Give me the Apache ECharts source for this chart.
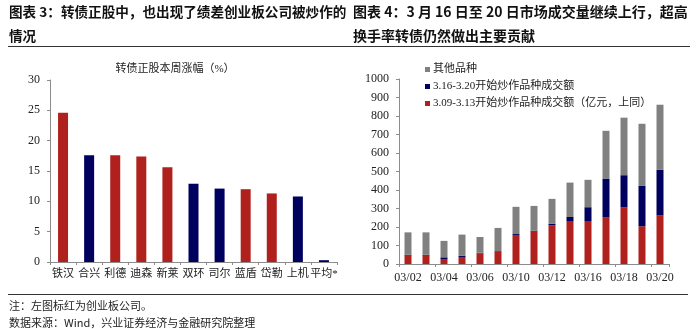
<!DOCTYPE html>
<html><head><meta charset="utf-8">
<script src="https://cdn.jsdelivr.net/npm/echarts@6/dist/echarts.min.js"></script>
<style>html,body{margin:0;padding:0;background:#fff}#c{width:700px;height:329px}</style>
</head><body><div id="c"></div>
<script>
// Left chart: 转债正股本周涨幅（%）
var stocks = ['铁汉','合兴','利德','迪森','新莱','双环','司尔','蓝盾','岱勒','上机','平均*'];
var gains = [24.6, 17.6, 17.6, 17.4, 15.6, 12.9, 12.1, 12.0, 11.3, 10.8, 0.3];
var isChiNext = [1,0,1,1,1,0,0,1,1,0,0];
var leftTicks = [0,5,10,15,20,25,30];

// Right chart: 成交额（亿元）
var dates = ['03/02','03/03','03/04','03/05','03/06','03/09','03/10','03/11','03/12','03/13','03/16','03/17','03/18','03/19','03/20'];
var hype0309 = [45, 45, 27, 38, 58, 67, 157, 175, 209, 229, 229, 251, 307, 204, 262];
var hype0316 = [5, 5, 9, 7, 3, 3, 5, 5, 8, 25, 78, 211, 173, 218, 247];
var others = [121, 121, 89, 114, 85, 125, 147, 134, 135, 186, 148, 258, 311, 336, 352];
var rightTicks = [0,100,200,300,400,500,600,700,800,900,1000];

var RED = '#B0211D', BLUE = '#00005E', GRAY = '#808080';
var serif = "'Liberation Serif','Noto Sans CJK SC'";
var sans = "'Noto Sans CJK SC'";
var chart = echarts.init(document.getElementById('c'));
var axisLine = {lineStyle:{color:'#8c8c8c', width:1}};
var plain = function(v){ return String(v); };
chart.setOption({
  animation:false,
  textStyle:{fontFamily:serif},
  title:[
    {text:'图表 3：转债正股中，也出现了绩差创业板公司被炒作的\n情况', left:9, top:0, padding:0,
     textStyle:{fontFamily:sans, fontSize:13.6, fontWeight:'bold', color:'#111', lineHeight:24}},
    {text:'图表 4：3 月 16 日至 20 日市场成交量继续上行，超高\n换手率转债仍然做出主要贡献', left:353, top:0, padding:0,
     textStyle:{fontFamily:sans, fontSize:14, fontWeight:'bold', color:'#111', lineHeight:24}},
    {text:'转债正股本周涨幅（%）', left:175, top:64, textAlign:'center', padding:0,
     textStyle:{fontFamily:serif, fontSize:11, fontWeight:'normal', color:'#222'}},
    {text:'注：左图标红为创业板公司。\n数据来源：Wind，兴业证券经济与金融研究院整理', left:9, top:297, padding:0,
     textStyle:{fontFamily:sans, fontSize:11, fontWeight:'normal', color:'#222', lineHeight:17}}
  ],
  graphic:[
    {type:'line', shape:{x1:8,y1:46.5,x2:690,y2:46.5}, style:{stroke:'#333', lineWidth:1}},
    {type:'line', shape:{x1:8,y1:294.5,x2:688,y2:294.5}, style:{stroke:'#333', lineWidth:1.2}}
  ],
  legend:{
    data:['其他品种','3.16-3.20开始炒作品种成交额','3.09-3.13开始炒作品种成交额（亿元，上同）'],
    orient:'vertical', left:420, top:59, itemWidth:5, itemHeight:5, itemGap:6,
    icon:'rect', textStyle:{fontFamily:serif, fontSize:11, color:'#222', padding:[0,0,0,-2]}
  },
  grid:[
    {left:50, right:363, top:80, bottom:67},
    {left:399, right:31, top:79, bottom:65}
  ],
  xAxis:[
    {type:'category', gridIndex:0, data:stocks, axisLine:axisLine,
     axisTick:{show:true, length:3, inside:false, lineStyle:{color:'#8c8c8c'}},
     axisLabel:{fontFamily:serif, fontSize:11, color:'#222', margin:7, interval:0}},
    {type:'category', gridIndex:1, data:dates, axisLine:axisLine,
     axisTick:{show:true, length:3, lineStyle:{color:'#8c8c8c'}},
     axisLabel:{fontFamily:serif, fontSize:12, color:'#222', margin:8, interval:1}}
  ],
  yAxis:[
    {type:'value', gridIndex:0, min:leftTicks[0], max:leftTicks[leftTicks.length-1], interval:5,
     axisLine:{show:true, lineStyle:{color:'#8c8c8c'}}, axisTick:{show:true, length:3, lineStyle:{color:'#8c8c8c'}},
     splitLine:{show:false}, axisLabel:{fontFamily:serif, fontSize:12, color:'#222', margin:10, formatter:plain}},
    {type:'value', gridIndex:1, min:rightTicks[0], max:rightTicks[rightTicks.length-1], interval:100,
     axisLine:{show:true, lineStyle:{color:'#8c8c8c'}}, axisTick:{show:true, length:3, lineStyle:{color:'#8c8c8c'}},
     splitLine:{show:false}, axisLabel:{fontFamily:serif, fontSize:12, color:'#222', margin:10, formatter:plain}}
  ],
  series:[
    {type:'bar', name:'涨幅', xAxisIndex:0, yAxisIndex:0, barWidth:10,
     data:gains.map(function(v,i){return {value:v, itemStyle:{color:isChiNext[i]?RED:BLUE}};})},
    {type:'bar', name:'3.09-3.13开始炒作品种成交额（亿元，上同）', xAxisIndex:1, yAxisIndex:1, stack:'s', barWidth:7,
     data:hype0309, itemStyle:{color:RED}},
    {type:'bar', name:'3.16-3.20开始炒作品种成交额', xAxisIndex:1, yAxisIndex:1, stack:'s', barWidth:7,
     data:hype0316, itemStyle:{color:BLUE}},
    {type:'bar', name:'其他品种', xAxisIndex:1, yAxisIndex:1, stack:'s', barWidth:7,
     data:others, itemStyle:{color:GRAY}}
  ]
});
</script></body></html>
